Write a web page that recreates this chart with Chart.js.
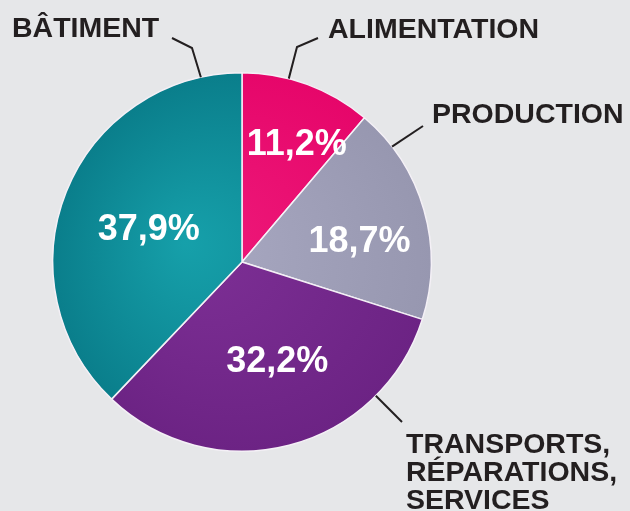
<!DOCTYPE html>
<html>
<head>
<meta charset="utf-8">
<script src="https://cdn.jsdelivr.net/npm/chart.js@4/dist/chart.umd.min.js"></script>
<style>
  html, body { margin: 0; padding: 0; background: #e6e7e9; }
  #wrap { width: 630px; height: 511px; position: relative; }
</style>
</head>
<body>
<div id="wrap"><canvas id="pie"></canvas></div>
<script>
// data
const categories = ['ALIMENTATION', 'PRODUCTION', 'TRANSPORTS, RÉPARATIONS, SERVICES', 'BÂTIMENT'];
const values = [11.2, 18.7, 32.2, 37.9];
const valueLabels = ['11,2%', '18,7%', '32,2%', '37,9%'];

const innerColors = ['#ee1a7a', '#a9a9c2', '#7e3096', '#16a0aa'];
const outerColors = ['#e6066a', '#9797b0', '#6c2384', '#0a7e8b'];

// where the white percentages and the outside labels sit (layout only)
const pctPos = [
  { r: 0.68, da: 5 },
  { r: 0.63, da: 6.5 },
  { r: 0.56, da: -5 },
  { r: 0.52, da: -3 }
];
// edge = position of the leader's start along the slice's rim (0 = start, 1 = end)
const outside = [
  { lines: ['ALIMENTATION'], x: 328, y: 38, edge: 0.355, path: [[297, 47], [318, 38]] },
  { lines: ['PRODUCTION'], x: 432, y: 123, edge: 0.18, path: [[423, 126]] },
  { lines: ['TRANSPORTS,', 'RÉPARATIONS,', 'SERVICES'], x: 406, y: 453, edge: 0.236, path: [[402, 422]] },
  { lines: ['BÂTIMENT'], x: 12, y: 37, edge: 0.908, path: [[192, 48], [172, 38]] }
];

const gradFill = (ctx) => {
  const chart = ctx.chart;
  const area = chart.chartArea;
  if (!area) return innerColors[ctx.dataIndex];
  const cx = (area.left + area.right) / 2, cy = (area.top + area.bottom) / 2;
  const r = Math.min(area.right - area.left, area.bottom - area.top) / 2;
  const g = chart.ctx.createRadialGradient(cx - r * 0.3, cy - r * 0.1, 0, cx, cy, r);
  g.addColorStop(0, innerColors[ctx.dataIndex]);
  g.addColorStop(1, outerColors[ctx.dataIndex]);
  return g;
};

const labelPlugin = {
  id: 'labelPlugin',
  afterDatasetsDraw(chart) {
    const ctx = chart.ctx;
    const arcs = chart.getDatasetMeta(0).data;
    ctx.save();
    arcs.forEach((arc, i) => {
      const p = arc.getProps(['x', 'y', 'startAngle', 'endAngle', 'outerRadius'], true);
      const mid = (p.startAngle + p.endAngle) / 2 + pctPos[i].da * Math.PI / 180;
      const rr = p.outerRadius * pctPos[i].r;
      ctx.fillStyle = '#ffffff';
      ctx.font = 'bold 36px "Liberation Sans", Arial, sans-serif';
      ctx.textAlign = 'center';
      ctx.textBaseline = 'middle';
      ctx.fillText(valueLabels[i], p.x + Math.cos(mid) * rr, p.y + Math.sin(mid) * rr);

      // leader line from the slice rim to the label
      const o = outside[i];
      const ang = p.startAngle + (p.endAngle - p.startAngle) * o.edge;
      const ex = p.x + Math.cos(ang) * p.outerRadius;
      const ey = p.y + Math.sin(ang) * p.outerRadius;
      ctx.strokeStyle = '#231f20';
      ctx.lineWidth = 2;
      ctx.beginPath();
      ctx.moveTo(ex, ey);
      o.path.forEach(pt => ctx.lineTo(pt[0], pt[1]));
      ctx.stroke();

      ctx.fillStyle = '#231f20';
      ctx.font = 'bold 28.5px "Liberation Sans", Arial, sans-serif';
      ctx.textAlign = 'left';
      ctx.textBaseline = 'alphabetic';
      o.lines.forEach((t, k) => ctx.fillText(t, o.x, o.y + k * 28));
    });
    ctx.restore();
  }
};

new Chart(document.getElementById('pie'), {
  type: 'pie',
  data: {
    labels: categories,
    datasets: [{
      data: values,
      backgroundColor: gradFill,
      borderColor: '#f4f0f6',
      borderWidth: 1.5
    }]
  },
  options: {
    responsive: true,
    maintainAspectRatio: false,
    animation: false,
    layout: { padding: { left: 52, right: 198, top: 72, bottom: 59 } },
    plugins: {
      legend: { display: false },
      tooltip: { enabled: false }
    }
  },
  plugins: [labelPlugin]
});
</script>
</body>
</html>
